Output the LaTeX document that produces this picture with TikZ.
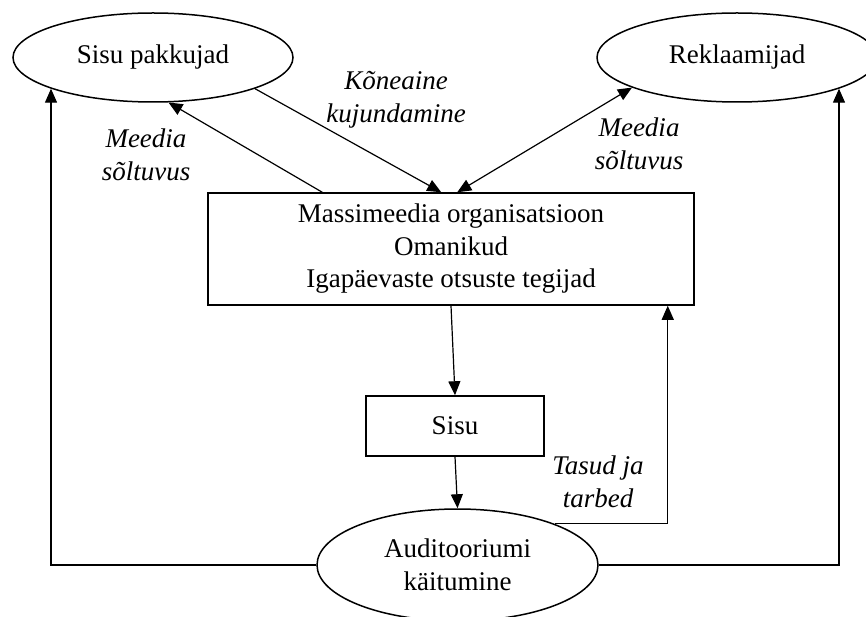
\documentclass[tikz,border=0pt]{standalone}
\usepackage{fontspec}
\setmainfont{Liberation Serif}
\usetikzlibrary{shapes.geometric,arrows.meta}
\begin{document}
\begin{tikzpicture}[x=1pt,y=-1pt,
  every node/.style={font=\fontsize{27}{32.5}\selectfont, inner sep=0pt},
  ell/.style={draw, ellipse, line width=1.5pt, minimum width=280pt, minimum height=89pt},
  boxnode/.style={draw, rectangle, line width=1.5pt, align=center},
  lbl/.style={font=\fontsize{27}{32.5}\selectfont\itshape, align=center},
  arr/.style={line width=1.2pt, -{Triangle[length=14pt,width=12pt]}},
  darr/.style={line width=1.2pt, {Triangle[length=14pt,width=12pt]}-{Triangle[length=14pt,width=12pt]}},
  ln/.style={line width=1.2pt}]
\useasboundingbox (0,0) rectangle (866,617);
\fill[white] (0,0) rectangle (866,617);

\node[ell] (sp) at (153,57.5) {Sisu pakkujad};
\node[ell] (rek) at (737,57.5) {Reklaamijad};
\node[boxnode, minimum width=486pt, minimum height=112pt] (main) at (451,249)
  {Massimeedia organisatsioon\\Omanikud\\Igapäevaste otsuste tegijad};
\node[boxnode, minimum width=178pt, minimum height=60pt] (sisu) at (455,426) {Sisu};
\node[ell, minimum width=281pt, minimum height=112pt, align=center] (aud) at (457.5,565)
  {Auditooriumi\\käitumine};

\node[lbl] (l1) at (146,155) {Meedia\\sõltuvus};
\node[lbl] (l2) at (396,100) {Kõneaine\\kujundamine};
\node[lbl] (l3) at (639,144) {Meedia\\sõltuvus};
\node[lbl] (l4) at (598,482) {Tasud ja\\tarbed};

% connectors
\draw[arr] ([xshift=115pt]main.north west) -- (sp.-71);
\draw[arr] (sp.-17.7) -- ([xshift=234pt]main.north west);
\draw[darr] ([xshift=250pt]main.north west) -- (rek.196.6);
\draw[arr] (main.south) -- (sisu.north);
\draw[arr] (sisu.south) -- (aud.north);
\draw[arr] (aud.23.2) -| ([xshift=-27pt]main.south east);
\draw[arr] (aud.west) -| (sp.197.65);
\draw[arr] (aud.east) -| (rek.-17.3);
\end{tikzpicture}
\end{document}
